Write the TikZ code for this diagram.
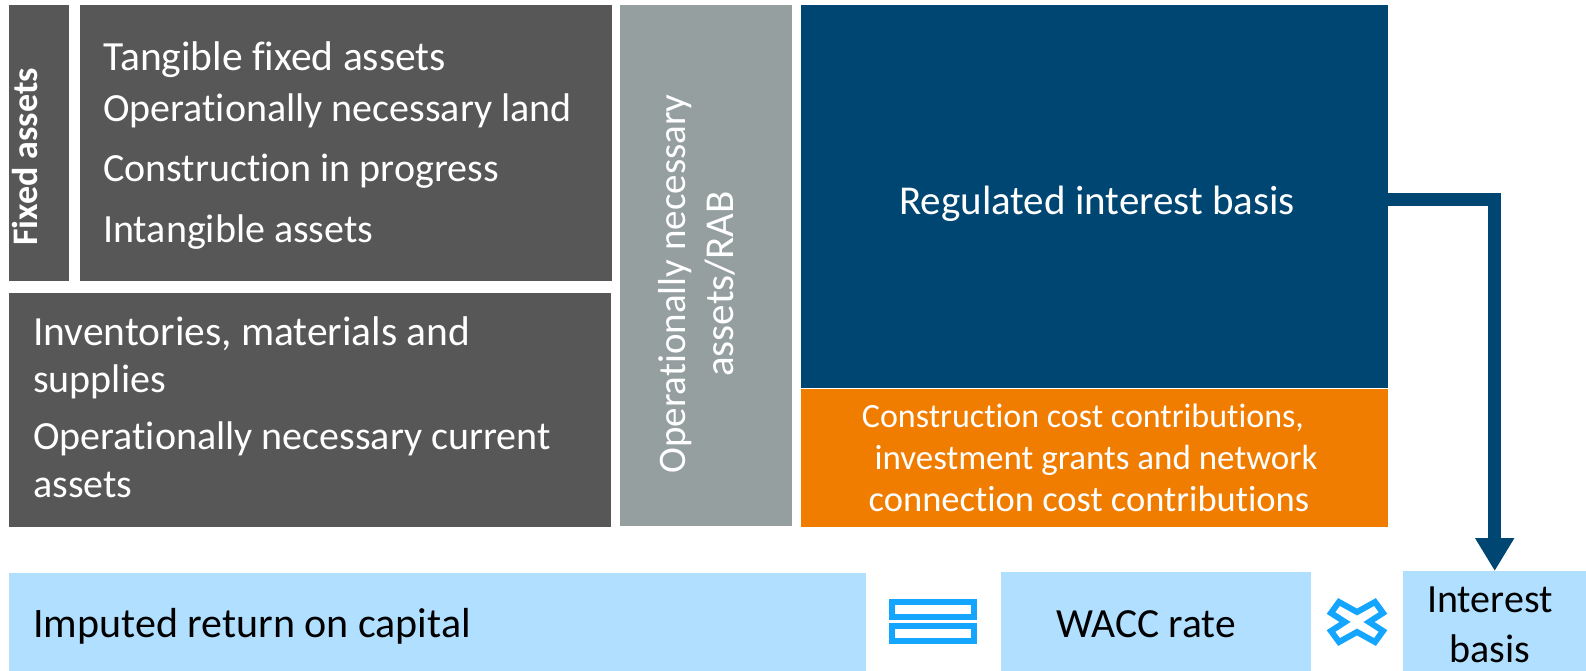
\documentclass[tikz,border=0pt]{standalone}
\usepackage{fontspec}
\setmainfont{Carlito}[Ligatures=CommonOff]
\definecolor{DarkBox}{RGB}{87, 87, 87}
\definecolor{GreyBox}{RGB}{149, 159, 160}
\definecolor{DeepBlue}{RGB}{0, 70, 115}
\definecolor{CostOrange}{RGB}{240, 125, 0}
\definecolor{PaleBlue}{RGB}{176, 223, 255}
\definecolor{IconBlue}{RGB}{20, 165, 255}
\usetikzlibrary{arrows.meta, positioning}

\begin{document}
\begin{tikzpicture}[
        x=1pt, y=-1pt,
        box/.style={anchor=north west, inner sep=0pt, draw=none},
        darkbox/.style={box, fill=DarkBox},
        palebox/.style={box, fill=PaleBlue},
        line_text/.style={anchor=base west, inner sep=0pt, text=white, font=\fontsize{40}{40}\selectfont},
        mid_text/.style={anchor=base, inner sep=0pt, font=\fontsize{40}{40}\selectfont},
        equal_bar/.style={draw=IconBlue, fill=white, line width=6pt, inner sep=0pt, minimum width=82pt, minimum height=15pt}
    ]
        \useasboundingbox (0,0) rectangle (1586,671);

        % Boxes
        \node[darkbox, minimum width=60pt, minimum height=276pt] (fixedbox) at (9,5) {};
        \node[darkbox, minimum width=532pt, minimum height=276pt, right=10pt of fixedbox] (tangiblebox) {};
        \node[darkbox, minimum width=602pt, minimum height=234pt, below right=11pt and 0pt of fixedbox.south west] (currentbox) {};
        \node[box, fill=GreyBox, minimum width=172pt, minimum height=521pt] (rabbox) at (620,5) {};
        \node[box, fill=DeepBlue, minimum width=587pt, minimum height=383pt] (regulated) at (801,5) {};
        \node[box, fill=CostOrange, minimum width=587pt, minimum height=138pt, below right=0pt and 0pt of regulated.south west] (costbox) {};
        \node[palebox, minimum width=857pt, minimum height=98pt] (returnbox) at (9,573) {};
        \node[palebox, minimum width=310pt, minimum height=99pt] (waccbox) at (1001,572) {};
        \node[palebox, minimum width=183pt, minimum height=100pt] (interest) at (1403,571) {};

        % Texts
        \node[line_text, rotate=90, font=\bfseries\fontsize{36}{36}\selectfont] (fixedtext) at (37,246) {Fixed assets};
        \node[line_text, font=\fontsize{41.5}{41.5}\selectfont] (tangible) at (103,71) {Tangible fixed assets};
        \node[line_text] (land) at (103,122) {Operationally necessary land};
        \node[line_text] (progress) at (103,182) {Construction in progress};
        \node[line_text] (intangible) at (103,242) {Intangible assets};
        \node[line_text, font=\fontsize{41.5}{41.5}\selectfont] (inventories) at (33,345) {Inventories, materials and};
        \node[line_text] (supplies) at (33,392) {supplies};
        \node[line_text] (currentline) at (33,449) {Operationally necessary current};
        \node[line_text] (currentend) at (33,497) {assets};
        \node[mid_text, text=white, rotate=90, font=\fontsize{39}{39}\selectfont] (rabone) at (685,284) {Operationally necessary};
        \node[mid_text, text=white, rotate=90, font=\fontsize{41}{41}\selectfont] (rabtwo) at (733,284) {assets/RAB};
        \node[mid_text, text=white, font=\fontsize{41}{41}\selectfont] (regulatedtext) at (1097,214) {Regulated interest basis};
        \node[mid_text, text=white, font=\fontsize{34}{34}\selectfont] (costone) at (1083,427) {Construction cost contributions,};
        \node[mid_text, text=white, font=\fontsize{35}{35}\selectfont] (costtwo) at (1096,469) {investment grants and network};
        \node[mid_text, text=white, font=\fontsize{36.5}{36.5}\selectfont] (costthree) at (1089,511) {connection cost contributions};
        \node[line_text, text=black, font=\fontsize{42}{42}\selectfont] (returntext) at (33,637) {Imputed return on capital};
        \node[mid_text, font=\fontsize{41.5}{41.5}\selectfont] (wacctext) at (1146,637) {WACC rate};
        \node[mid_text] (interestone) at (1490,612) {Interest};
        \node[mid_text] (interesttwo) at (1490,662) {basis};

        % Icons
        \node[equal_bar] (equalup) at (933,609.5) {};
        \node[equal_bar] (equaldown) at (933,633) {};
        \draw[IconBlue, fill=white, line width=6pt, miter limit=10]
            (1375,602) -- (1383,613) -- (1369,622) -- (1383,631) -- (1375,642) -- (1357,632)
            -- (1339,642) -- (1331,631) -- (1345,622) -- (1331,613) -- (1339,602) -- (1357,612) -- cycle;

        % Edges
        \draw[-{Triangle[length=33pt, width=37pt]}, DeepBlue, line width=12.5pt] ([yshift=-3pt]regulated.east) -| (interest.north);
    \end{tikzpicture}
\end{document}
